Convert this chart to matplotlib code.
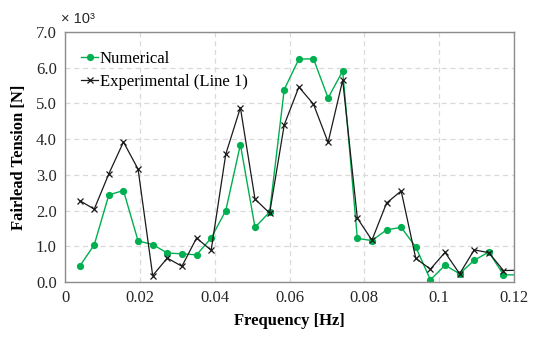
import matplotlib
matplotlib.use('Agg')
import matplotlib.pyplot as plt
import numpy as np

plt.rcParams['font.family'] = ['Liberation Serif', 'DejaVu Serif']

# frequency bins (Hz), step 1/256
freq = np.arange(1, 32) / 256.0

numerical = [0.44, 1.04, 2.44, 2.56, 1.15, 1.05, 0.81, 0.79, 0.76, 1.23,
             2.00, 3.85, 1.53, 1.96, 5.39, 6.24, 6.25, 5.15, 5.91, 1.22,
             1.16, 1.46, 1.53, 0.98, 0.06, 0.47, 0.23, 0.61, 0.84, 0.20,
             0.20]
experimental = [2.28, 2.04, 3.03, 3.92, 3.16, 0.18, 0.67, 0.44, 1.23, 0.89,
                3.58, 4.88, 2.32, 1.93, 4.40, 5.46, 4.98, 3.91, 5.65, 1.79,
                1.17, 2.21, 2.55, 0.66, 0.36, 0.83, 0.23, 0.90, 0.82, 0.32,
                0.33]

xticks = [0, 0.02, 0.04, 0.06, 0.08, 0.10, 0.12]
xticklabels = ['0', '0.02', '0.04', '0.06', '0.08', '0.1', '0.12']
yticks = [0, 1, 2, 3, 4, 5, 6, 7]

figureWidth = 5.34
figureHeight = 3.43
fig = plt.figure(figsize=(figureWidth, figureHeight), dpi=100)

panel1 = plt.axes([65/534, 61/343, 449/534, 250/343])

panel1.plot(freq, numerical, color='#00B050', linewidth=1.0,
            marker='o', ms=5.2, mew=0, label='Numerical')
panel1.plot(freq, experimental, color='#1a1a1a', linewidth=0.9,
            marker='x', ms=4.5, mew=0.9, label='Experimental (Line 1)')

panel1.set_xlim(0, 0.12)
panel1.set_ylim(0, 7)
panel1.set_xticks(xticks)
panel1.set_xticklabels(xticklabels)
panel1.set_yticks(yticks)
panel1.set_yticklabels(['%.1f' % v for v in yticks])

panel1.grid(True, color='#d9d9d9', linestyle=(0, (4, 3)), linewidth=0.9)
panel1.set_axisbelow(True)
for s in panel1.spines.values():
    s.set_color('#8c8c8c')
    s.set_linewidth(1.0)

panel1.tick_params(length=0, labelsize=12, pad=6, colors='#262626')
panel1.set_xlabel('Frequency [Hz]', fontsize=12, fontweight='bold', labelpad=5)
panel1.set_ylabel('Fairlead Tension [N]', fontsize=12, fontweight='bold', labelpad=6)

fig.text(61/534, 1 - 19/343, '× 10³', fontsize=10.5, va='center', ha='left',
         color='#262626', family=['Liberation Sans', 'DejaVu Sans'])

panel1.legend(loc='upper left', frameon=False, fontsize=12, handlelength=1.0,
              handletextpad=0.1, borderaxespad=0.5, labelspacing=0.45,
              bbox_to_anchor=(0.003, 0.985))

plt.savefig('out.png', dpi=100)
